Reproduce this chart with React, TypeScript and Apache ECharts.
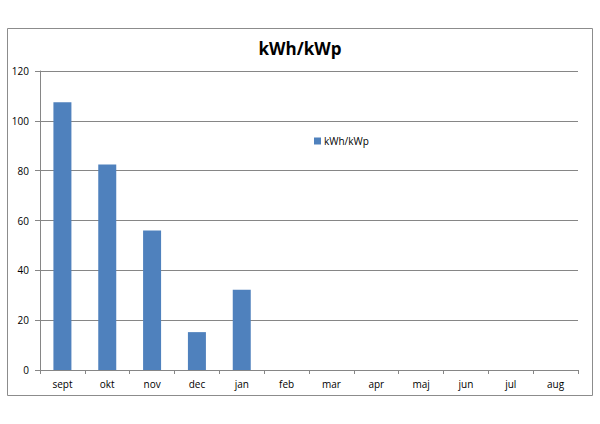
import React, { useEffect, useRef } from "react";
import * as echarts from "echarts";

const categories = ["sept", "okt", "nov", "dec", "jan", "feb", "mar", "apr", "maj", "jun", "jul", "aug"];
const values: (number | null)[] = [107.5, 82.5, 56, 15.2, 32.2, null, null, null, null, null, null, null];
const seriesName = "kWh/kWp";
const titleText = "kWh/kWp";

export default function App() {
  const ref = useRef<HTMLDivElement>(null);
  useEffect(() => {
    document.body.style.margin = "0";
    const chart = echarts.init(ref.current!, null, { renderer: "svg" });
    const font = "'Open Sans', 'Liberation Sans', sans-serif";
    chart.setOption({
      animation: false,
      backgroundColor: "#ffffff",
      textStyle: { fontFamily: font },
      title: {
        text: titleText,
        left: "center",
        top: 35,
        textStyle: { fontSize: 17, fontWeight: "bold", color: "#000", fontFamily: font },
      },
      legend: {
        left: 309,
        top: 131,
        itemWidth: 7,
        itemHeight: 7,
        icon: "rect",
        itemGap: 4,
        textStyle: { fontSize: 10, color: "#000", fontFamily: font, padding: [0, 0, 0, -2] },
        data: [seriesName],
      },
      graphic: [
        {
          type: "rect",
          shape: { x: 7.5, y: 28.5, width: 585, height: 367 },
          style: { fill: "none", stroke: "#8c8c8c", lineWidth: 1 },
          silent: true,
        },
      ],
      grid: { left: 40, right: 22, top: 71, bottom: 54 },
      xAxis: {
        type: "category",
        data: categories,
        boundaryGap: true,
        axisLine: { show: true, lineStyle: { color: "#868686" } },
        axisTick: { show: true, length: 4, alignWithLabel: false, lineStyle: { color: "#868686" } },
        axisLabel: { fontSize: 10, color: "#000", margin: 9, fontFamily: font },
      },
      yAxis: {
        type: "value",
        min: 0,
        max: 120,
        interval: 20,
        axisLine: { show: true, lineStyle: { color: "#868686" } },
        axisTick: { show: true, length: 5, lineStyle: { color: "#868686" } },
        axisLabel: { fontSize: 10, color: "#000", margin: 11, fontFamily: font },
        splitLine: { show: true, lineStyle: { color: "#868686", width: 1 } },
      },
      series: [
        {
          name: seriesName,
          type: "bar",
          data: values,
          barWidth: 18,
          itemStyle: { color: "#4f81bd" },
        },
      ],
    });
    return () => chart.dispose();
  }, []);
  return <div ref={ref} style={{ width: 600, height: 424, position: "absolute", left: 0, top: 0 }} />;
}
